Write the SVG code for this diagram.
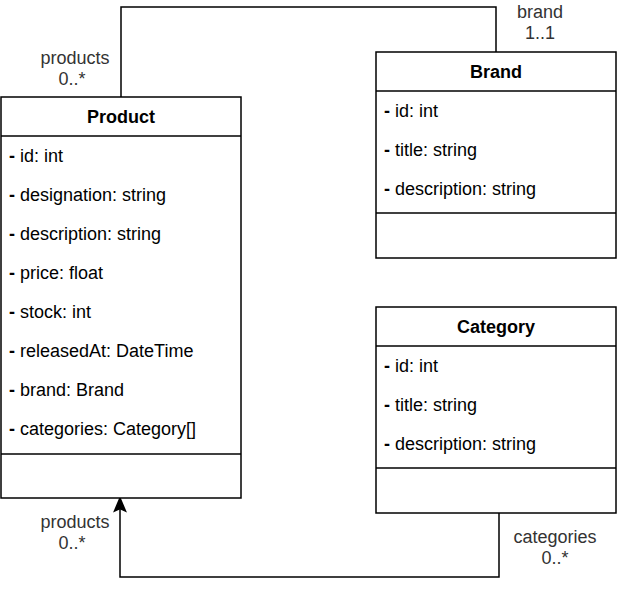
<svg xmlns="http://www.w3.org/2000/svg" width="617" height="590" viewBox="0 0 617 590">
<style>
  .box{fill:#fff;stroke:#000;stroke-width:1.5}
  .ln{stroke:#000;stroke-width:1.5;fill:none}
  .t{font-family:"Liberation Sans",Arial,sans-serif;font-size:18px;fill:#000}
  .h{font-weight:bold;text-anchor:middle}
  .c{text-anchor:middle;fill:#333}
  .b{font-weight:bold}
</style>
<rect width="617" height="590" fill="#fff"/>
<g id="connectors">
  <polyline class="ln" points="121,97 121,7 496,7 496,52"/>
  <polyline class="ln" points="499,513 499,577 120,577 120,508"/>
  <path d="M120,498 L125.5,511 L120,508.5 L114.5,511 Z" fill="#000" stroke="#000" stroke-width="1.5" stroke-linejoin="miter"/>
  <text class="t c" x="75" y="64">products</text>
  <text class="t c" x="72" y="85">0..*</text>
  <text class="t c" x="540" y="18">brand</text>
  <text class="t c" x="540" y="39">1..1</text>
  <text class="t c" x="75" y="528">products</text>
  <text class="t c" x="72" y="549">0..*</text>
  <text class="t c" x="555" y="543">categories</text>
  <text class="t c" x="555" y="564">0..*</text>
</g>
<g id="product">
  <rect class="box" x="1" y="97" width="240" height="401"/>
  <line class="ln" x1="1" y1="136" x2="241" y2="136"/>
  <line class="ln" x1="1" y1="454" x2="241" y2="454"/>
  <text class="t h" x="121" y="123">Product</text>
  <text class="t" x="9" y="162"><tspan class="b">-</tspan> id: int</text>
  <text class="t" x="9" y="201"><tspan class="b">-</tspan> designation: string</text>
  <text class="t" x="9" y="240"><tspan class="b">-</tspan> description: string</text>
  <text class="t" x="9" y="279"><tspan class="b">-</tspan> price: float</text>
  <text class="t" x="9" y="318"><tspan class="b">-</tspan> stock: int</text>
  <text class="t" x="9" y="357"><tspan class="b">-</tspan> releasedAt: DateTime</text>
  <text class="t" x="9" y="396"><tspan class="b">-</tspan> brand: Brand</text>
  <text class="t" x="9" y="435"><tspan class="b">-</tspan> categories: Category[]</text>
</g>
<g id="brand">
  <rect class="box" x="376" y="52" width="240" height="206"/>
  <line class="ln" x1="376" y1="91" x2="616" y2="91"/>
  <line class="ln" x1="376" y1="213" x2="616" y2="213"/>
  <text class="t h" x="496" y="78">Brand</text>
  <text class="t" x="384" y="117"><tspan class="b">-</tspan> id: int</text>
  <text class="t" x="384" y="156"><tspan class="b">-</tspan> title: string</text>
  <text class="t" x="384" y="195"><tspan class="b">-</tspan> description: string</text>
</g>
<g id="category">
  <rect class="box" x="376" y="307" width="240" height="206"/>
  <line class="ln" x1="376" y1="346" x2="616" y2="346"/>
  <line class="ln" x1="376" y1="468" x2="616" y2="468"/>
  <text class="t h" x="496" y="333">Category</text>
  <text class="t" x="384" y="372"><tspan class="b">-</tspan> id: int</text>
  <text class="t" x="384" y="411"><tspan class="b">-</tspan> title: string</text>
  <text class="t" x="384" y="450"><tspan class="b">-</tspan> description: string</text>
</g>
</svg>
